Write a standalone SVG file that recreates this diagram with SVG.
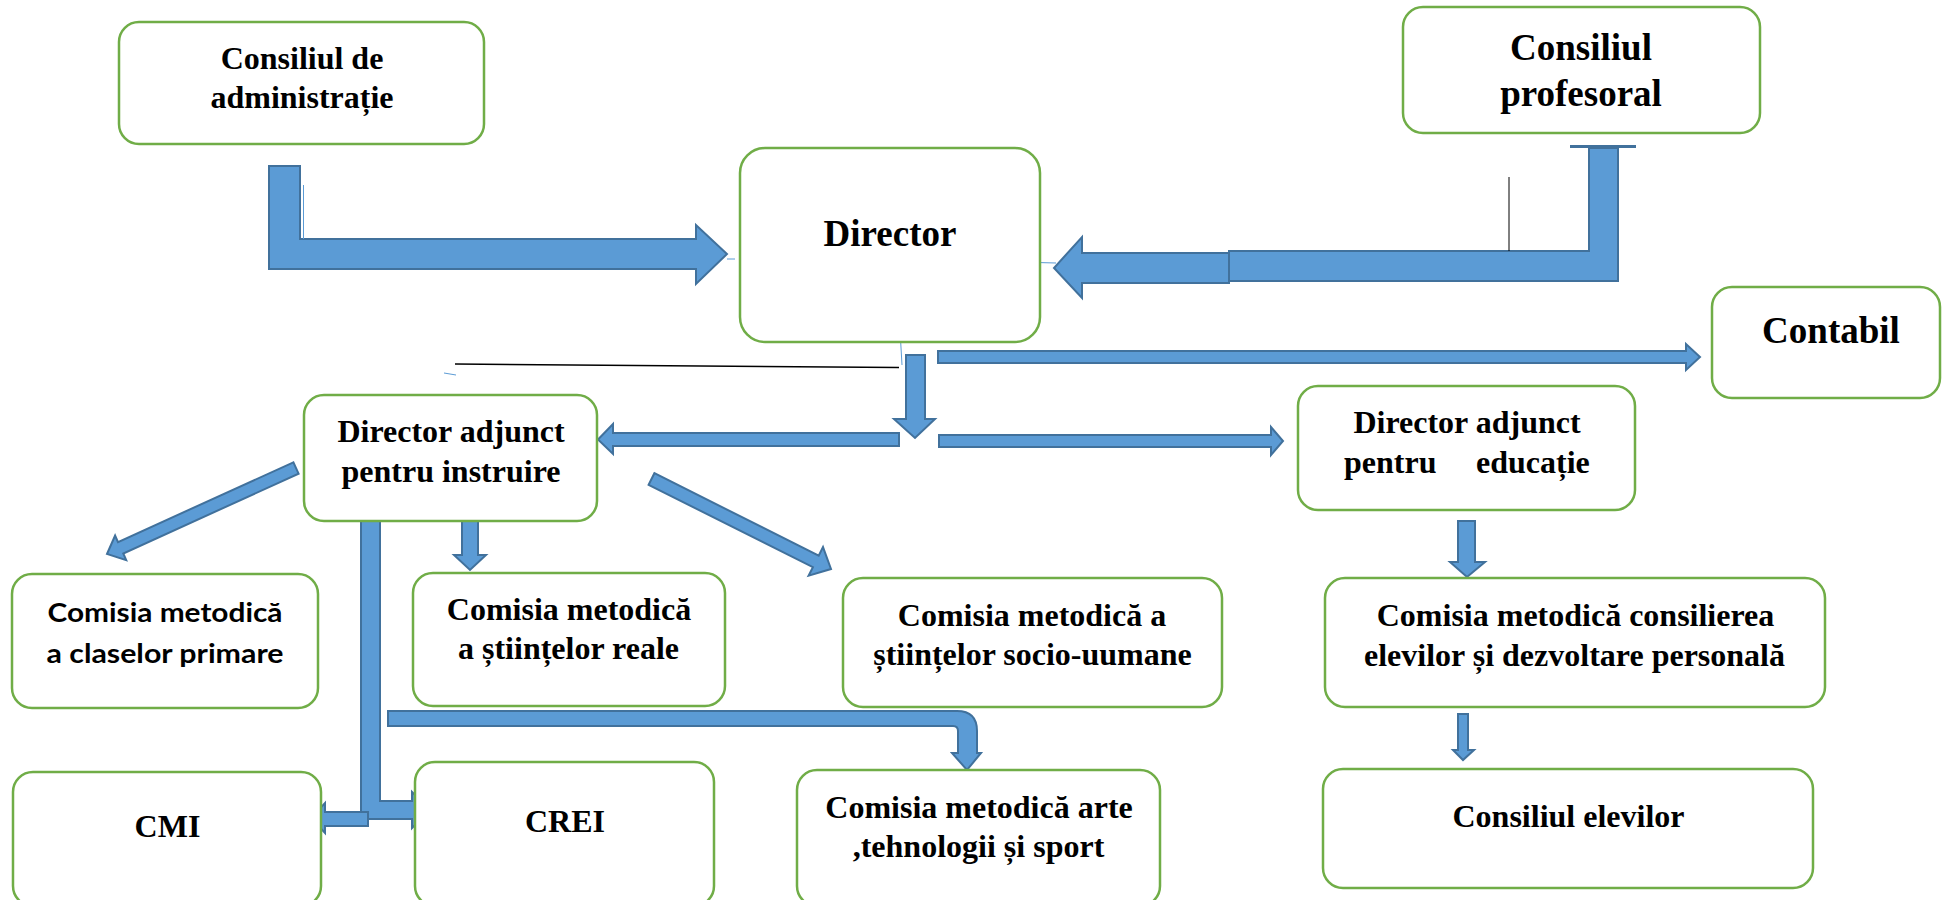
<svg xmlns="http://www.w3.org/2000/svg" width="1946" height="900" viewBox="0 0 1946 900">
<style>
.box{fill:#fff;stroke:#70AD47;stroke-width:2.5}
.t{font-family:"Liberation Serif","Times New Roman",serif;font-weight:bold;fill:#000;text-anchor:middle}
.s32{font-size:32px}
.s37{font-size:37px}
.sans{font-family:Lato,"Liberation Sans",sans-serif;font-weight:bold;font-size:26px;fill:#000;text-anchor:middle}
.ar{fill:#5B9BD5;stroke:#41719C;stroke-width:2;stroke-linejoin:miter}
.thin{stroke:#5B9BD5;stroke-width:1;fill:none}
.blk{stroke:#000;stroke-width:1.5;fill:none}
</style>
<rect width="1946" height="900" fill="#fff"/>
<g id="connectors">
<polygon class="ar" points="269,166 300,166 300,239 696,239 696,225 727,254 696,284 696,269 269,269"/>
<line class="thin" x1="303.5" y1="185" x2="303.5" y2="239"/>
<line class="thin" x1="727" y1="259" x2="735" y2="259"/>
<rect x="1570" y="145" width="66" height="3" fill="#41719C"/>
<polygon class="ar" points="1589,148 1618,148 1618,281 1229,281 1229,251 1589,251"/>
<polygon class="ar" points="1229,253 1082,253 1082,237 1054,268 1082,298 1082,283 1229,283"/>
<line x1="1509" y1="177" x2="1509" y2="251" stroke="#000" stroke-width="1"/>
<line class="thin" x1="1018" y1="262" x2="1056" y2="263"/>
<polygon class="ar" points="906,355 925,355 925,419 935,419 915,438 894,419 906,419"/>
<line class="thin" x1="899" y1="313" x2="902" y2="365"/>
<line class="blk" x1="455" y1="364" x2="899" y2="367.5"/>
<line class="thin" x1="444" y1="373" x2="456" y2="375"/>
<polygon class="ar" points="938,351 1686,351 1686,344 1700,357 1686,370 1686,363 938,363"/>
<polygon class="ar" points="899,433 899,446 613,446 613,454 598,439.5 613,424 613,433"/>
<polygon class="ar" points="939,435 1271,435 1271,427 1283,441 1271,455 1271,447 939,447"/>
<polygon class="ar" points="293.4,462.3 118,542.1 115.1,535.5 107,554 126.2,560.1 123.3,553.5 298.6,473.7"/>
<polygon class="ar" points="648.6,484.8 812.9,567.2 808.6,575.7 831,569 823,547.1 818.7,555.6 654.4,473.2"/>
<polygon class="ar" points="462,518 478,518 478,555 486,555 470,570 454,555 462,555"/>
<polygon class="ar" points="361,505 380,505 380,801 412,801 412,792 430,810 412,828 412,819 361,819"/>
<polygon class="ar" points="368,812 368,826 325,826 325,833 311,818 325,803 325,812"/>
<path class="ar" d="M388,711 H957 Q977,711 977,731 V753 H981 L967,770 L952,753 H958 V731 Q958,726 953,726 H388 Z"/>
<polygon class="ar" points="1458,521 1475,521 1475,562 1485,562 1467,577 1450,562 1458,562"/>
<polygon class="ar" points="1458,714 1468,714 1468,750 1474,750 1463,760 1453,750 1458,750"/>
</g>
<g id="consiliul-administratie">
<rect class="box" x="119" y="22" width="365" height="122" rx="20"/>
<text class="t s32" x="302" y="69">Consiliul de</text>
<text class="t s32" x="302" y="108">administrație</text>
</g>
<g id="consiliul-profesoral">
<rect class="box" x="1403" y="7" width="357" height="126" rx="20"/>
<text class="t s37" x="1581" y="60">Consiliul</text>
<text class="t s37" x="1581" y="106">profesoral</text>
</g>
<g id="director">
<rect class="box" x="740" y="148" width="300" height="194" rx="25"/>
<text class="t s37" x="890" y="246">Director</text>
</g>
<g id="contabil">
<rect class="box" x="1712" y="287" width="228" height="111" rx="20"/>
<text class="t s37" x="1831" y="343">Contabil</text>
</g>
<g id="director-adjunct-instruire">
<rect class="box" x="304" y="395" width="293" height="126" rx="20"/>
<text class="t s32" x="451" y="442">Director adjunct</text>
<text class="t s32" x="451" y="482">pentru instruire</text>
</g>
<g id="director-adjunct-educatie">
<rect class="box" x="1298" y="386" width="337" height="124" rx="20"/>
<text class="t s32" x="1467" y="433">Director adjunct</text>
<text class="t s32" y="473" style="text-anchor:start"><tspan x="1344">pentru</tspan><tspan x="1476">educație</tspan></text>
</g>
<g id="comisia-primare">
<rect class="box" x="12" y="574" width="306" height="134" rx="20"/>
<text class="sans" x="165" y="622" textLength="235" lengthAdjust="spacingAndGlyphs">Comisia metodică</text>
<text class="sans" x="165" y="663" textLength="237" lengthAdjust="spacingAndGlyphs">a claselor primare</text>
</g>
<g id="comisia-reale">
<rect class="box" x="413" y="573" width="312" height="133" rx="20"/>
<text class="t s32" x="569" y="620">Comisia metodică</text>
<text class="t s32" x="568.5" y="659">a științelor reale</text>
</g>
<g id="comisia-socio">
<rect class="box" x="843" y="578" width="379" height="129" rx="20"/>
<text class="t s32" x="1032" y="626">Comisia metodică a</text>
<text class="t s32" x="1032.5" y="665">științelor socio-uumane</text>
</g>
<g id="comisia-consilierea">
<rect class="box" x="1325" y="578" width="500" height="129" rx="20"/>
<text class="t s32" x="1575.5" y="626">Comisia metodică consilierea</text>
<text class="t s32" x="1574.5" y="666">elevilor și dezvoltare personală</text>
</g>
<g id="cmi">
<rect class="box" x="13" y="772" width="308" height="134" rx="20"/>
<text class="t s32" x="167.5" y="837">CMI</text>
</g>
<g id="crei">
<rect class="box" x="415" y="762" width="299" height="144" rx="20"/>
<text class="t s32" x="565" y="832">CREI</text>
</g>
<g id="comisia-arte">
<rect class="box" x="797" y="770" width="363" height="136" rx="20"/>
<text class="t s32" x="979" y="818">Comisia metodică arte</text>
<text class="t s32" x="978.5" y="857">,tehnologii și sport</text>
</g>
<g id="consiliul-elevilor">
<rect class="box" x="1323" y="769" width="490" height="119" rx="20"/>
<text class="t s32" x="1568.5" y="827">Consiliul elevilor</text>
</g>
</svg>
